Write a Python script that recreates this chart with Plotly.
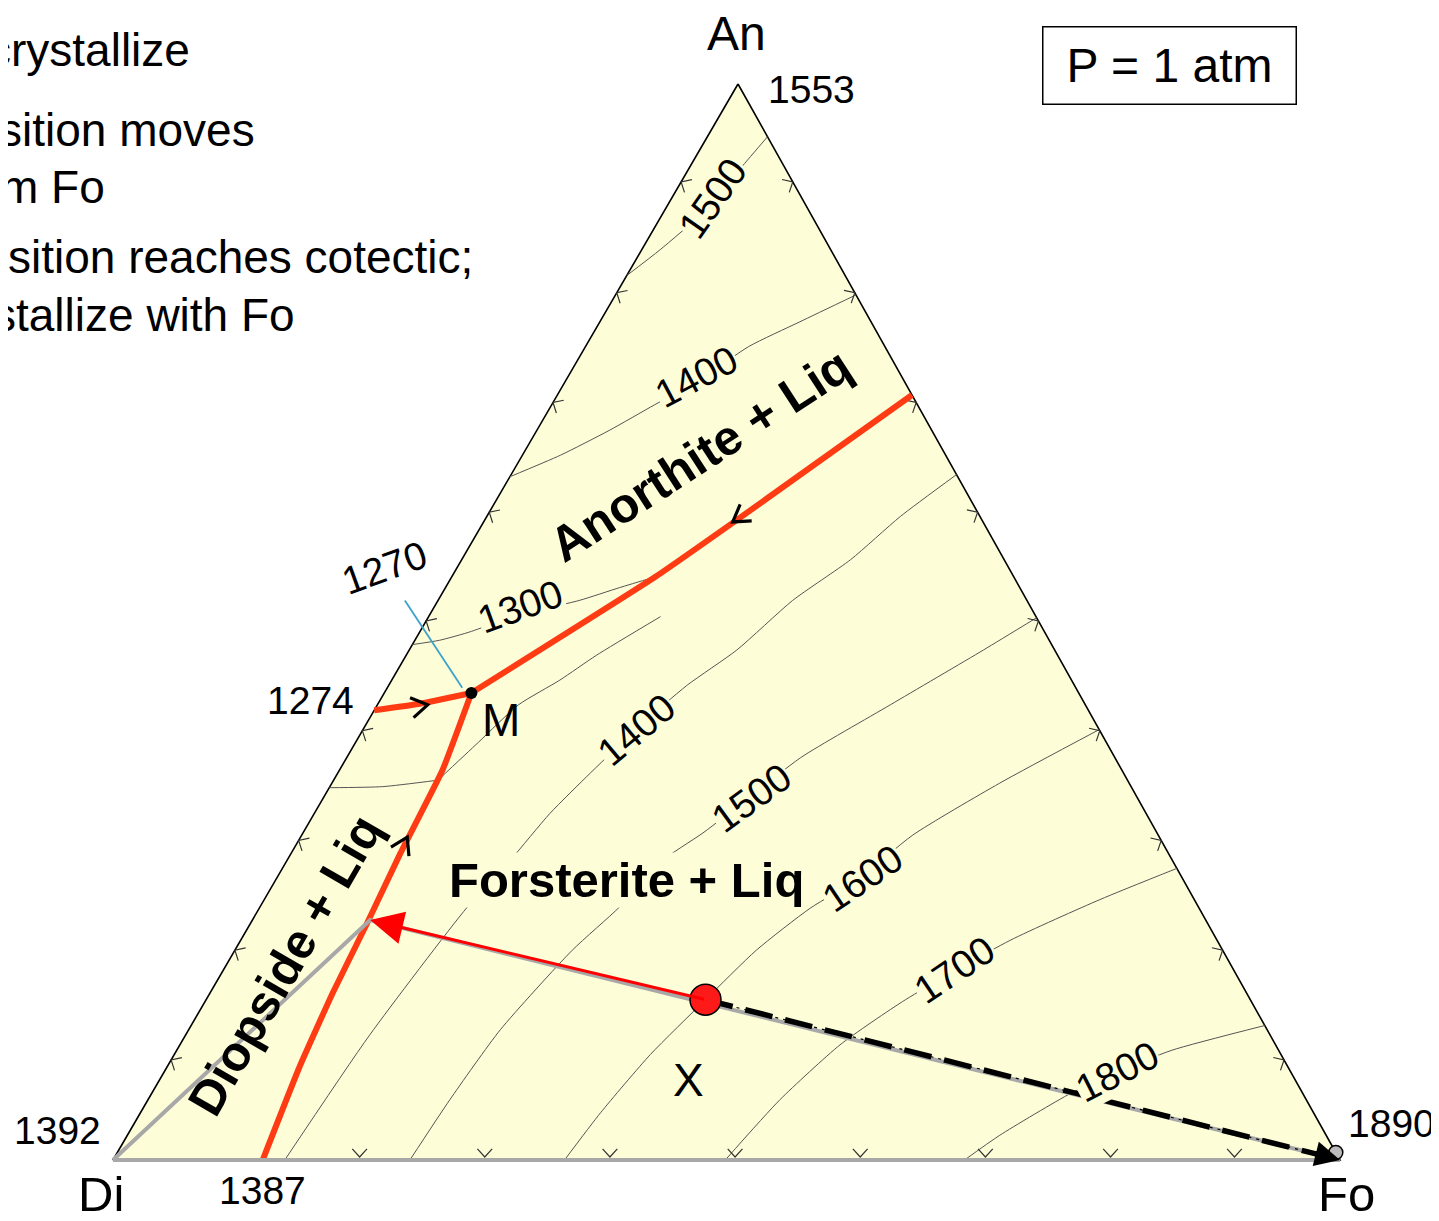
import numpy as np
import plotly.graph_objects as go

# ---- data: liquid compositions in wt% (An, Fo); Di = 100 - An - Fo ----

# cotectic (boundary) curves
cot_anfo_an = [71.1, 59.7, 54.2, 43.4]
cot_anfo_fo = [28.9, 20.7, 16.6, 7.1]
cot_dian_an = [41.8, 42.4, 43.4]
cot_dian_fo = [0.0, 3.4, 7.1]
cot_difo_an = [43.4, 36.2, 28.5, 22.0, 15.5, 8.6, 0.0]
cot_difo_fo = [7.1, 8.4, 8.9, 9.5, 10.0, 10.8, 12.2]

# isotherms
iso_an1500_an = [82.2, 84.6, 87.8, 92.2, 95.1]
iso_an1500_fo = [0.0, 1.5, 3.1, 4.2, 4.9]
iso_an1400_an = [63.5, 65.5, 67.8, 70.2, 72.5, 75.6, 77.9, 80.4]
iso_an1400_fo = [0.0, 3.1, 5.9, 8.4, 10.9, 13.3, 16.3, 19.6]
iso_an1300_an = [47.9, 48.3, 49.0, 50.7, 52.0, 53.2, 54.2]
iso_an1300_fo = [0.0, 2.0, 3.9, 7.4, 11.5, 14.2, 16.6]
iso_di1300_an = [34.6, 34.7, 35.3]
iso_di1300_fo = [0.0, 4.3, 8.5]
iso_fo1300_an = [35.3, 38.8, 42.3, 44.6, 46.9, 50.5]
iso_fo1300_fo = [8.5, 10.0, 11.5, 13.7, 15.5, 18.9]
iso_fo1400_an = [0.0, 11.6, 23.5, 27.9, 32.2, 36.0, 40.4, 44.1, 47.4, 52.0, 55.8, 59.8, 63.7]
iso_fo1400_fo = [14.0, 15.0, 16.9, 18.2, 19.2, 20.6, 22.4, 24.3, 26.7, 28.9, 31.7, 33.7, 36.3]
iso_fo1500_an = [0.0, 5.6, 12.1, 19.5, 23.5, 27.7, 30.4, 33.7, 37.4, 42.3, 47.4, 50.4]
iso_fo1500_fo = [24.2, 24.6, 25.4, 27.5, 29.3, 30.5, 32.6, 34.7, 37.0, 41.8, 46.8, 49.6]
iso_fo1600_an = [0.0, 4.4, 9.8, 14.9, 19.5, 23.4, 26.2, 30.2, 35.0, 40.0]
iso_fo1600_fo = [36.8, 37.5, 38.8, 40.7, 42.5, 44.9, 47.5, 49.8, 54.4, 60.0]
iso_fo1700_an = [0.0, 5.6, 10.7, 14.9, 20.4, 24.2, 27.1]
iso_fo1700_fo = [49.9, 51.5, 53.8, 57.0, 62.7, 68.1, 72.9]
iso_fo1800_an = [0.0, 2.3, 6.2, 8.2, 10.2, 12.5]
iso_fo1800_fo = [69.4, 71.1, 74.9, 77.7, 81.1, 87.5]

# isotherm labels
iso_label_text = ["1500", "1400", "1300", "1400", "1500", "1600", "1700", "1800"]
iso_label_an = [89.4, 72.8, 51.4, 40.0, 33.7, 26.2, 17.7, 8.2]
iso_label_fo = [3.3, 10.5, 7.0, 22.3, 34.9, 47.7, 59.6, 77.7]

# direction-of-falling-temperature arrows on the cotectics:
# tip composition and the cotectic segment (from, to) it points along
cot_arrow_tip_an = [59.3, 42.3, 30.0]
cot_arrow_tip_fo = [20.3, 4.1, 8.7]
cot_arrow_from_an = [59.7, 41.8, 28.5]
cot_arrow_from_fo = [20.7, 0.0, 8.9]
cot_arrow_to_an = [54.2, 43.4, 36.2]
cot_arrow_to_fo = [16.6, 7.1, 8.4]

# bulk composition X, point where liquid meets the cotectic, M
x_an, x_fo = 14.9, 40.7
t_an, t_fo = 22.3, 9.6
m_an, m_fo = 43.4, 7.1

# short blue tie near M
blue_an = [52.0, 43.9]
blue_fo = [-2.7, 6.1]

# edge tick positions (fraction along each edge)
tick_base = [0.201, 0.303, 0.405, 0.507, 0.609, 0.711, 0.813, 0.914]
tick_side = [0.093, 0.195, 0.297, 0.399, 0.501, 0.602, 0.704, 0.806, 0.909]

# melting / eutectic temperatures
t_an_melt, t_di_melt, t_fo_melt = "1553", "1392", "1890"
t_difo_eut, t_dian_eut, t_m = "1387", "1274", "1270"

# ---- drawing ----
AN_XY = (738, 84)
DI_XY = (113, 1160)
FO_XY = (1340, 1160)
FILL = "#FDFDD8"
RED = "#FF3B14"
FONT = "Liberation Sans, Arial, Helvetica, sans-serif"
PAGE_PAD = 8  # browser body margin around the figure


def tern(an, fo):
    an = np.asarray(an, float) / 100
    fo = np.asarray(fo, float) / 100
    di = 1 - an - fo
    x = an * AN_XY[0] + di * DI_XY[0] + fo * FO_XY[0]
    y = an * AN_XY[1] + di * DI_XY[1] + fo * FO_XY[1]
    return x, y


def rot(v, deg):
    a = np.radians(deg)
    return np.array([v[0] * np.cos(a) - v[1] * np.sin(a), v[0] * np.sin(a) + v[1] * np.cos(a)])


def chevrons(p0, p1, fracs, inset, arm=11, half=42):
    p0, p1 = np.array(p0, float), np.array(p1, float)
    t = (p1 - p0) / np.linalg.norm(p1 - p0)
    n = np.array([-t[1], t[0]])
    cen = (np.array(AN_XY) + np.array(DI_XY) + np.array(FO_XY)) / 3
    if np.dot(cen - p0, n) < 0:
        n = -n
    a = np.radians(half)
    xs, ys = [], []
    for f in fracs:
        tip = p0 + f * (p1 - p0) + n * inset
        e1 = tip + arm * (n * np.cos(a) + t * np.sin(a))
        e2 = tip + arm * (n * np.cos(a) - t * np.sin(a))
        xs += [e1[0], tip[0], e2[0], None]
        ys += [e1[1], tip[1], e2[1], None]
    return xs, ys


fig = go.Figure()

# triangle
tx, ty = tern([100, 0, 0, 100], [0, 0, 100, 0])
fig.add_trace(go.Scatter(x=tx, y=ty, mode="lines", fill="toself", fillcolor=FILL,
                         line=dict(color="black", width=1.6), hoverinfo="skip"))

# isotherms
for a_, f_ in [(iso_an1500_an, iso_an1500_fo), (iso_an1400_an, iso_an1400_fo),
               (iso_an1300_an, iso_an1300_fo), (iso_di1300_an, iso_di1300_fo),
               (iso_fo1300_an, iso_fo1300_fo), (iso_fo1400_an, iso_fo1400_fo),
               (iso_fo1500_an, iso_fo1500_fo), (iso_fo1600_an, iso_fo1600_fo),
               (iso_fo1700_an, iso_fo1700_fo), (iso_fo1800_an, iso_fo1800_fo)]:
    ix, iy = tern(a_, f_)
    fig.add_trace(go.Scatter(x=ix, y=iy, mode="lines",
                             line=dict(color="#555555", width=1, shape="spline", smoothing=0.6),
                             hoverinfo="skip"))

# edge chevrons
cx, cy = [], []
for p0, p1, fr, ins in [(DI_XY, FO_XY, tick_base, 3), (DI_XY, AN_XY, tick_side, 0),
                        (FO_XY, AN_XY, tick_side, 0)]:
    xs, ys = chevrons(p0, p1, fr, ins)
    cx += xs
    cy += ys
fig.add_trace(go.Scatter(x=cx, y=cy, mode="lines", line=dict(color="#333333", width=1.2),
                         hoverinfo="skip"))

# blue line
bx, by = tern(blue_an, blue_fo)
fig.add_trace(go.Scatter(x=bx, y=by, mode="lines", line=dict(color="#3BA3CC", width=1.8),
                         hoverinfo="skip"))

# cotectics
for a_, f_ in [(cot_anfo_an, cot_anfo_fo), (cot_dian_an, cot_dian_fo), (cot_difo_an, cot_difo_fo)]:
    ix, iy = tern(a_, f_)
    fig.add_trace(go.Scatter(x=ix, y=iy, mode="lines",
                             line=dict(color=RED, width=6, shape="spline", smoothing=0.4),
                             hoverinfo="skip"))

# arrowheads on the cotectics
tipx, tipy = tern(cot_arrow_tip_an, cot_arrow_tip_fo)
frx, fry = tern(cot_arrow_from_an, cot_arrow_from_fo)
tox, toy = tern(cot_arrow_to_an, cot_arrow_to_fo)
ax_l, ay_l = [], []
for i in range(len(tipx)):
    tip = np.array([tipx[i], tipy[i]])
    u = np.array([tox[i] - frx[i], toy[i] - fry[i]])
    u = u / np.linalg.norm(u)
    e1 = tip + 19 * rot(-u, 32)
    e2 = tip + 19 * rot(-u, -32)
    ax_l += [e1[0], tip[0], e2[0], None]
    ay_l += [e1[1], tip[1], e2[1], None]
fig.add_trace(go.Scatter(x=ax_l, y=ay_l, mode="lines", line=dict(color="black", width=3.2),
                         hoverinfo="skip"))

# gray tie triangle Di - T - Fo
gx, gy = tern([0, t_an, 0, 0], [0, t_fo, 100, 0])
fig.add_trace(go.Scatter(x=gx, y=gy, mode="lines", line=dict(color="#A8A8A8", width=4),
                         hoverinfo="skip"))

# black dashed X -> Fo
dx_, dy_ = tern([x_an, 0], [x_fo, 100])
fig.add_trace(go.Scatter(x=dx_, y=dy_, mode="lines",
                         line=dict(color="black", width=1.2, dash="3px,5px"), hoverinfo="skip"))
fig.add_trace(go.Scatter(x=dx_, y=dy_, mode="lines",
                         line=dict(color="black", width=5.5, dash="28px,13px"), hoverinfo="skip"))

# markers
fx, fy = tern([0.7], [99.3])
fig.add_trace(go.Scatter(x=fx, y=fy, mode="markers",
                         marker=dict(size=14, color="#BBBBBB", line=dict(color="black", width=1.5)),
                         hoverinfo="skip"))
mx, my = tern([m_an], [m_fo])
fig.add_trace(go.Scatter(x=mx, y=my, mode="markers", marker=dict(size=12, color="black"),
                         hoverinfo="skip"))
xx, xy = tern([x_an], [x_fo])
fig.add_trace(go.Scatter(x=xx, y=xy, mode="markers",
                         marker=dict(size=31, color="#FF1A1A", line=dict(color="black", width=1.5)),
                         hoverinfo="skip"))

ann = []

# red arrow X -> cotectic
tpx, tpy = tern([t_an], [t_fo])
ann.append(dict(x=tpx[0], y=tpy[0], ax=xx[0], ay=xy[0], axref="x", ayref="y", text="",
                showarrow=True, arrowhead=2, arrowsize=2.2, arrowwidth=3, arrowcolor="#FF0000"))

# black head at Fo
fox, foy = tern([0], [100])
d = np.array([xx[0] - fox[0], xy[0] - foy[0]])
d = d / np.linalg.norm(d) * 28
ann.append(dict(x=fox[0], y=foy[0], ax=d[0], ay=d[1], text="", showarrow=True,
                arrowhead=2, arrowsize=1, arrowwidth=5, arrowcolor="black"))

# isotherm labels
iso_angles = [-55, -28, -20, -40, -36, -34, -34, -27]
lx, ly = tern(iso_label_an, iso_label_fo)
for txt, x0, y0, ang in zip(iso_label_text, lx, ly, iso_angles):
    ann.append(dict(x=x0, y=y0, text=txt, showarrow=False, textangle=ang, bgcolor=FILL,
                    font=dict(family=FONT, size=39, color="black"), borderpad=0))

# field labels
for txt, a_, f_, ang, bg in [("Anorthite + Liq", 65.5, 14.5, -33, None),
                             ("Forsterite + Liq", 26.0, 28.6, 0, FILL),
                             ("Diopside + Liq", 18.1, 4.8, -60, None)]:
    px, py = tern([a_], [f_])
    ann.append(dict(x=px[0], y=py[0], text="<b>" + txt + "</b>", showarrow=False, textangle=ang,
                    bgcolor=bg, font=dict(family=FONT, size=49, color="black"), borderpad=0))

# vertex and temperature labels
ax_, ay_ = tern([100], [0])
dix, diy = tern([0], [0])
e1x, e1y = tern([0], [12.2])
e2x, e2y = tern([41.8], [0])
bx0, by0 = tern([blue_an[0]], [blue_fo[0]])
for txt, x0, y0, xs, ys, sz in [("An", ax_[0], ay_[0], -2, 51, 48),
                                (t_an_melt, ax_[0], ay_[0], 73, -5, 39),
                                ("Di", dix[0], diy[0], -12, -34, 49),
                                (t_di_melt, dix[0], diy[0], -56, 30, 39),
                                ("Fo", fox[0], foy[0], 6, -34, 49),
                                (t_fo_melt, fox[0], foy[0], 51, 37, 39),
                                (t_difo_eut, e1x[0], e1y[0], 0, -30, 39),
                                (t_dian_eut, e2x[0], e2y[0], -64, 10, 39),
                                ("M", mx[0], my[0], 30, -27, 46),
                                ("X", xx[0], xy[0], -17, -80, 46)]:
    ann.append(dict(x=x0, y=y0, xshift=xs, yshift=ys, text=txt, showarrow=False,
                    font=dict(family=FONT, size=sz, color="black")))
ann.append(dict(x=bx0[0], y=by0[0], xshift=-20, yshift=33, text=t_m, showarrow=False,
                textangle=-20, font=dict(family=FONT, size=39, color="black")))

# pressure box
ann.append(dict(x=1169.5, y=65, text="P = 1 atm", showarrow=False, width=252, height=76,
                bordercolor="black", borderwidth=1.5, borderpad=0, bgcolor="white",
                font=dict(family=FONT, size=48, color="black")))

# text cut off at the left edge
for txt, xr, yc in [("crystallize", 192, 50), ("sition moves", 257, 130), ("m Fo", 107, 187),
                    ("sition reaches cotectic;", 475, 257), ("stallize with Fo", 297, 315)]:
    ann.append(dict(x=xr, y=yc, xanchor="right", text=txt, showarrow=False,
                    font=dict(family=FONT, size=46, color="black")))

fig.update_layout(
    width=1439 - PAGE_PAD, height=1221 - PAGE_PAD,
    margin=dict(l=0, r=0, t=0, b=0),
    paper_bgcolor="white", plot_bgcolor="white",
    showlegend=False,
    xaxis=dict(range=[PAGE_PAD, 1439], visible=False),
    yaxis=dict(range=[1221, PAGE_PAD], visible=False),
    annotations=ann,
)

fig.write_html("out.html")
